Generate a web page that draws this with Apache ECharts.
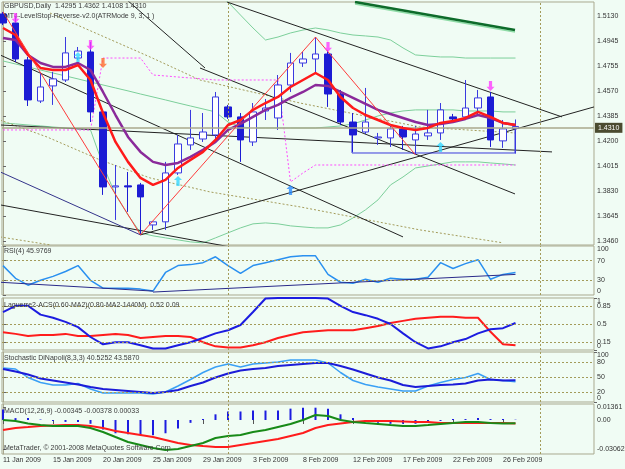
<!DOCTYPE html>
<html>
<head>
<meta charset="utf-8">
<style>
  html, body { margin: 0; padding: 0; width: 100%; height: 100%; overflow: hidden; background: #f0fcf4; }
  #container { width: 625px; height: 469px; }
</style>
<script src="https://cdn.jsdelivr.net/npm/echarts@6/dist/echarts.min.js"></script>
</head>
<body>
<div id="container"></div>
<script>
var dom = document.getElementById('container');
var myChart = echarts.init(dom, null, { renderer: 'canvas' });

// bars (Sunday bars included, as MT4 shows them)
const dates = ['11 Jan','12 Jan','13 Jan','14 Jan','15 Jan','16 Jan','18 Jan','19 Jan','20 Jan','21 Jan','22 Jan','23 Jan',
  '25 Jan','26 Jan','27 Jan','28 Jan','29 Jan','30 Jan','1 Feb','2 Feb','3 Feb','4 Feb','5 Feb','6 Feb','8 Feb','9 Feb',
  '10 Feb','11 Feb','12 Feb','13 Feb','15 Feb','16 Feb','17 Feb','18 Feb','19 Feb','20 Feb','22 Feb','23 Feb','24 Feb',
  '25 Feb','26 Feb','27 Feb'].map(d => d + ' 2009');

const opens  = [1.5145,1.5078,1.4804,1.4499,1.4611,1.4655,1.4818,1.4863,1.4418,1.3861,1.3869,1.3876,1.3579,1.3602,1.3965,1.4173,1.4217,1.4247,1.4455,1.4381,1.4195,1.4425,1.4373,1.4618,1.4781,1.4811,1.4848,1.4551,1.4343,1.4269,1.4225,1.4225,1.4292,1.4210,1.4240,1.4262,1.4381,1.4381,1.4447,1.4529,1.4203,1.4295];
const highs  = [1.5160,1.5130,1.4826,1.4707,1.4715,1.4974,1.4900,1.4937,1.4433,1.4024,1.3972,1.3891,1.3609,1.4047,1.4247,1.4433,1.4410,1.4566,1.4470,1.4410,1.4484,1.4514,1.4692,1.4856,1.4863,1.4974,1.4878,1.4581,1.4410,1.4596,1.4262,1.4314,1.4314,1.4314,1.4433,1.4484,1.4403,1.4655,1.4581,1.4566,1.4358,1.4362];
const lows   = [1.5063,1.4789,1.4462,1.4484,1.4470,1.4640,1.4804,1.4343,1.3802,1.3616,1.3676,1.3505,1.3542,1.3542,1.3950,1.4136,1.4195,1.4210,1.4366,1.4047,1.4165,1.4358,1.4284,1.4566,1.4752,1.4707,1.4455,1.4321,1.4121,1.4254,1.4173,1.4158,1.4136,1.4099,1.4210,1.4210,1.4351,1.4358,1.4395,1.4158,1.4151,1.4108];
const closes = [1.5078,1.4811,1.4507,1.4603,1.4663,1.4856,1.4870,1.4418,1.3861,1.3869,1.3861,1.3787,1.3602,1.3965,1.4180,1.4225,1.4269,1.4529,1.4381,1.4210,1.4418,1.4447,1.4618,1.4781,1.4811,1.4848,1.4551,1.4343,1.4247,1.4343,1.4232,1.4292,1.4232,1.4254,1.4262,1.4433,1.4366,1.4447,1.4522,1.4210,1.4292,1.4310];

// moving averages
const maRed    = [1.5041,1.4989,1.4841,1.4744,1.4729,1.4729,1.4766,1.4655,1.4410,1.4195,1.4047,1.3928,1.3876,1.3913,1.4002,1.4062,1.4121,1.4210,1.4321,1.4358,1.4433,1.4484,1.4529,1.4603,1.4655,1.4707,1.4655,1.4529,1.4447,1.4395,1.4358,1.4321,1.4299,1.4284,1.4299,1.4336,1.4351,1.4373,1.4418,1.4381,1.4336,1.4321];
const maPurple = [1.4967,1.4952,1.4841,1.4781,1.4752,1.4752,1.4781,1.4729,1.4566,1.4395,1.4232,1.4121,1.4047,1.4024,1.4039,1.4084,1.4136,1.4195,1.4284,1.4329,1.4381,1.4433,1.4470,1.4522,1.4566,1.4618,1.4611,1.4566,1.4522,1.4477,1.4433,1.4403,1.4373,1.4343,1.4321,1.4329,1.4343,1.4366,1.4395,1.4373,1.4336,1.4321];

// green channel
const bandUp  = [null,null,null,null,null,null,null,null,null,null,null,null,null,null,null,null,null,1.5286,1.5234,1.5137,1.5041,1.4952,1.4974,1.5004,1.5026,1.5041,1.5026,1.5004,1.4989,1.4982,1.4974,1.4952,1.4893,1.4841,1.4833,1.4826,1.4826,1.4818,1.4818,1.4818,1.4818,1.4818];
const bandMid = [1.4796,1.4774,1.4752,1.4729,1.4707,1.4685,1.4663,1.4640,1.4618,1.4596,1.4574,1.4551,1.4529,1.4507,1.4484,1.4462,1.4440,1.4418,1.4343,1.4306,1.4299,1.4299,1.4299,1.4299,1.4299,1.4299,1.4306,1.4314,1.4329,1.4358,1.4388,1.4410,1.4425,1.4433,1.4433,1.4433,1.4433,1.4425,1.4425,1.4425,1.4418,1.4418];
const bandLow = [1.4336,1.4329,1.4321,1.4314,1.4306,1.4299,1.4292,1.4284,1.4024,1.3802,1.3653,1.3520,1.3498,1.3483,1.3468,1.3453,1.3446,1.3483,1.3520,1.3557,1.3587,1.3594,1.3587,1.3572,1.3564,1.3557,1.3557,1.3579,1.3631,1.3691,1.3765,1.3876,1.3935,1.4002,1.4017,1.4032,1.4047,1.4047,1.4047,1.4039,1.4032,1.4024];

// LevelStop-Reverse line
const levelStop = [1.4284,1.4284,1.4284,1.4284,1.4284,1.4284,1.4284,1.4284,1.4818,1.4818,1.4818,1.4818,1.4692,1.4685,1.4677,1.4670,1.4663,1.4655,1.4655,1.4655,1.4655,1.4655,1.4655,1.3898,1.3965,1.4024,1.4024,1.4024,1.4024,1.4024,1.4024,1.4024,1.4024,1.4024,1.4024,1.4024,1.4024,1.4024,1.4024,1.4024,1.4024,1.4024];

// zigzag pivots: [bar, 'h' | 'l']
const zigzagPivots = [[0, 'h'], [11, 'l'], [25, 'h'], [33, 'l']];

// drawn objects (bar index, price)
const blackLines = [
  [[17.92, 1.5234], [44.72, 1.4381]],
  [[9.92, 1.5249], [16.16, 1.4744]],
  [[-0.24, 1.4841], [32, 1.3490]],
  [[-0.24, 1.4321], [43.92, 1.4121]],
  [[15.76, 1.4744], [40.96, 1.3809]],
  [[-0.24, 1.3728], [18.16, 1.3416]],
  [[11, 1.3505], [47.28, 1.4455]]
];
const navyLine = [[-0.24, 1.3973], [11, 1.3505]];
const darkGreenLine = [[28.16, 1.5234], [40.96, 1.5026]];
const lightGreenLine = [[28.16, 1.5219], [40.96, 1.5011]];
const oliveLines = [
  [[3.76, 1.5152], [7.76, 1.4989], [11.76, 1.4826], [15.76, 1.4655], [23.76, 1.4484], [33.36, 1.4306], [40.96, 1.4262]],
  [[-0.24, 1.4358], [3.52, 1.4232], [7.76, 1.4062], [11.76, 1.3928], [16.56, 1.3824], [23.76, 1.3713], [33.36, 1.3542], [40, 1.3446]],
  [[-0.24, 1.3490], [3.76, 1.3431]]
];
const boxLine = [[27.92, 1.4306], [27.92, 1.4113], [40.96, 1.4113], [40.96, 1.4306]];

// signal arrows
const arrowsDown = [[1, 1.5115], [7, 1.4915], [26, 1.4900], [39, 1.4611]];
const arrowsDownOrange = [[8, 1.4781]];
const arrowsUpCyan = [[6, 1.4826], [14, 1.3906], [35, 1.4158]];
const arrowsUpBlue = [[23, 1.3839]];

// indicators
const rsi = [60,34,20,30,38,48,60,30,14,14,14,12,8,46,60,62,66,78,60,44,60,66,72,78,80,80,42,26,24,32,26,34,32,32,36,66,54,64,72,32,42,45.98];
const rsiTrendA = [[-0.24, 26], [12, 8]];
const rsiTrendB = [[12, 6], [41, 42]];
const lagBlue = [0.73,0.85,0.85,0.68,0.62,0.54,0.44,0.25,0.11,0.15,0.15,0.09,0.03,0.03,0.09,0.15,0.23,0.32,0.38,0.48,0.73,0.99,1,1,1,1,0.99,0.85,0.73,0.67,0.6,0.5,0.32,0.15,0.03,0.07,0.15,0.21,0.32,0.4,0.42,0.52];
const lagRed  = [0.34,0.31,0.27,0.29,0.29,0.31,0.27,0.27,0.29,0.31,0.29,0.23,0.25,0.27,0.27,0.25,0.15,0.07,0.05,0.05,0.09,0.15,0.23,0.29,0.34,0.36,0.38,0.38,0.38,0.42,0.46,0.52,0.56,0.6,0.62,0.64,0.64,0.62,0.62,0.35,0.11,0.09];
const stochK = [68,66,49,39,34,34,37,26,18,18,18,18,16,20,32,45,59,70,76,70,76,78,80,84,84,84,78,59,43,35,30,26,22,22,32,39,45,49,57,45,43,40.53];
const stochD = [66,61,55,47,43,39,35,30,26,24,22,20,18,20,24,32,39,49,57,63,66,68,72,74,76,78,78,72,65,57,49,43,34,30,32,34,35,37,43,45,43,43.59];
const macdHist = [0.011,0.002,0.002,0.0005,-0.001,-0.002,-0.002,-0.004,-0.010,-0.014,-0.015,-0.016,-0.016,-0.014,-0.009,-0.003,0.001,0.006,0.009,0.009,0.010,0.010,0.010,0.012,0.013,0.013,0.012,0.006,0.002,-0.002,-0.003,-0.004,-0.004,-0.004,-0.002,-0.001,0.001,0.001,0.002,0.001,0.001,0.00033];
const macdMain = [0,-0.0011,-0.0037,-0.0053,-0.0063,-0.0063,-0.0063,-0.0084,-0.0127,-0.0180,-0.0232,-0.0264,-0.0296,-0.0317,-0.0306,-0.0275,-0.0243,-0.0190,-0.0169,-0.0158,-0.0127,-0.0106,-0.0074,-0.0042,0,0.0053,0.0042,0,-0.0021,-0.0032,-0.0042,-0.0053,-0.0063,-0.0063,-0.0053,-0.0042,-0.0032,-0.0021,-0.0021,-0.0032,-0.0037,-0.00345];
const macdSignal = [-0.0106,-0.0084,-0.0074,-0.0063,-0.0058,-0.0053,-0.0053,-0.0063,-0.0084,-0.0116,-0.0137,-0.0158,-0.0180,-0.0211,-0.0243,-0.0264,-0.0275,-0.0285,-0.0285,-0.0264,-0.0243,-0.0222,-0.0201,-0.0169,-0.0137,-0.0084,-0.0053,-0.0037,-0.0021,-0.0011,-0.0011,-0.0011,-0.0016,-0.0021,-0.0021,-0.0032,-0.0032,-0.0032,-0.0032,-0.0032,-0.0032,-0.00378];

// axis ticks / levels
const priceTicks = [1.3460,1.3645,1.3830,1.4015,1.4200,1.4385,1.4570,1.4755,1.4945,1.5130];
const lastPrice = 1.4310;
const rsiTicks = [0, 30, 70, 100];
const rsiLevels = [70, 30];
const lagTicks = [0.15, 0.5, 0.85];
const lagEdges = [0, 1];
const lagLevels = [0.85, 0.5, 0.15];
const stochTicks = [20, 50, 80];
const stochEdges = [0, 100];
const stochLevels = [80, 50, 20];
const macdTicks = [-0.03062, 0, 0.01361];
const dateTicks = [0, 4, 8, 12, 16, 20, 24, 28, 32, 36, 40];
const separators = [18, 43];

const borderCol = '#a9a98f';
const textCol = '#333333';
const oliveCol = '#a39b5a';
const pts = arr => arr.map((v, i) => [i, v]);

const grids = [
  { top: 2, height: 243 },
  { top: 246, height: 49 },
  { top: 298, height: 52 },
  { top: 352, height: 50 },
  { top: 404, height: 50 }
].map(g => Object.assign({ left: 2, right: 31, show: true, borderColor: borderCol, borderWidth: 1, outerBoundsMode: 'none' }, g));

const xAxes = grids.map((g, i) => ({
  gridIndex: i, type: 'value', min: -0.08, max: 47.28,
  show: i === 4,
  axisLine: { show: false },
  splitLine: { show: false },
  axisTick: { show: true, customValues: dateTicks, length: 4, lineStyle: { color: '#555' } },
  axisLabel: { customValues: dateTicks, formatter: v => dates[v], align: 'left', fontSize: 7, color: textCol, margin: 3 }
}));

function yAx(i, min, max, ticks, fmt, edgeAlign, bare) {
  const lab = { customValues: ticks, formatter: fmt, fontSize: 7, color: textCol, margin: 3,
    showMinLabel: true, showMaxLabel: true };
  if (edgeAlign) { lab.verticalAlignMinLabel = 'bottom'; lab.verticalAlignMaxLabel = 'top'; }
  return {
    gridIndex: i, type: 'value', position: 'right', min: min, max: max,
    axisLine: { show: !bare, lineStyle: { color: borderCol } },
    axisTick: { show: true, customValues: ticks, length: 3, lineStyle: { color: '#666' } },
    axisLabel: lab,
    splitLine: { show: false }
  };
}

const yAxes = [
  yAx(0, 1.3430, 1.5234, priceTicks, v => v.toFixed(4), false),
  yAx(1, 0, 100, rsiTicks, v => String(v), true),
  yAx(2, 0, 1, lagTicks, v => String(v), false),
  yAx(3, 0, 100, stochTicks, v => String(v), false),
  yAx(4, -0.0359, 0.0169, macdTicks, v => v === 0 ? '0.00' : v.toFixed(5), false),
  // edge labels drawn on their own axes so they may overlap the inner ones, as in MT4
  yAx(2, 0, 1, lagEdges, v => String(v), true, true),
  yAx(3, 0, 100, stochEdges, v => String(v), true, true)
];

function levelMarks(levels) {
  return {
    silent: true, symbol: 'none', label: { show: false },
    lineStyle: { color: oliveCol, type: [2, 2], width: 1 },
    data: levels.map(v => ({ yAxis: v })).concat(separators.map(v => ({ xAxis: v })))
  };
}

function line(grid, data, color, width, extra) {
  return Object.assign({
    type: 'line', xAxisIndex: grid, yAxisIndex: grid, data: data, showSymbol: false, symbol: 'none',
    lineStyle: { color: color, width: width }, silent: true, z: 3
  }, extra || {});
}

const arrowUp = 'path://M5,0L10,5L7,5L7,12L3,12L3,5L0,5Z';
function arrows(data, color, down) {
  return {
    type: 'scatter', xAxisIndex: 0, yAxisIndex: 0, data: data, symbol: arrowUp, symbolSize: [8, 10],
    symbolRotate: down ? 180 : 0, itemStyle: { color: color }, silent: true, z: 6
  };
}

const series = [];
// main panel
series.push(line(0, pts(bandUp), '#7ccf9a', 1, { z: 1 }));
series.push(line(0, pts(bandMid), '#7ccf9a', 1, { z: 1, markLine: levelMarks([]) }));
series.push(line(0, pts(bandLow), '#7ccf9a', 1, { z: 1 }));
oliveLines.forEach(l => series.push(line(0, l, oliveCol, 1, { z: 1, lineStyle: { color: oliveCol, width: 1, type: [2, 2] } })));
blackLines.forEach(l => series.push(line(0, l, '#222222', 1, { z: 1 })));
series.push(line(0, navyLine, '#33338a', 1, { z: 1 }));
series.push(line(0, lightGreenLine, '#8edca6', 1.5, { z: 1 }));
series.push(line(0, darkGreenLine, '#0d6b2a', 2.5, { z: 1 }));
series.push(line(0, boxLine, '#3b3bdc', 1, { z: 1 }));
series.push(line(0, pts(levelStop), '#ff4cff', 1, { z: 2, lineStyle: { color: '#ff4cff', width: 1, type: [2, 2] } }));
series.push({
  type: 'candlestick', xAxisIndex: 0, yAxisIndex: 0, barWidth: 7, silent: true, z: 2,
  encode: { x: 0, y: [1, 2, 3, 4] },
  data: dates.map((d, i) => [i, opens[i], closes[i], lows[i], highs[i]]),
  itemStyle: { color: '#ffffff', color0: '#1c1cd4', borderColor: '#3a3ae0', borderColor0: '#1c1cd4', borderWidth: 1 },
  markLine: {
    silent: true, symbol: 'none',
    lineStyle: { color: '#aaa98c', type: 'solid', width: 1.5 },
    label: { show: true, position: 'end', distance: 1, formatter: lastPrice.toFixed(4), color: '#ffffff',
      backgroundColor: '#4b4b30', fontSize: 7, padding: [2, 3, 1, 3] },
    data: [{ yAxis: lastPrice }]
  }
});
series.push(line(0, pts(maPurple), '#8a2a9a', 2.5, { z: 4 }));
series.push(line(0, pts(maRed), '#ff1a1a', 2.5, { z: 5 }));
series.push(line(0, zigzagPivots.map(p => [p[0], p[1] === 'h' ? highs[p[0]] : lows[p[0]]]), '#ff3b3b', 1, { z: 5 }));
series.push(arrows(arrowsDown, '#ff3cff', true));
series.push(arrows(arrowsDownOrange, '#ff6a2a', true));
series.push(arrows(arrowsUpCyan, '#33d6ff', false));
series.push(arrows(arrowsUpBlue, '#2a8cff', false));

// RSI
series.push(line(1, pts(rsi), '#2a90f0', 1.5, { markLine: levelMarks(rsiLevels) }));
series.push(line(1, rsiTrendA, '#2a2a8a', 1));
series.push(line(1, rsiTrendB, '#2a2a8a', 1));
// Laguerre
series.push(line(2, pts(lagRed), '#ff1c1c', 2, { markLine: levelMarks(lagLevels) }));
series.push(line(2, pts(lagBlue), '#1c1ce0', 2));
// Stochastic
series.push(line(3, pts(stochK), '#3aa0f5', 1.5, { markLine: levelMarks(stochLevels) }));
series.push(line(3, pts(stochD), '#1c1cd8', 2));
// MACD
series.push({
  type: 'bar', xAxisIndex: 4, yAxisIndex: 4, data: pts(macdHist), barWidth: 2, silent: true,
  itemStyle: { color: '#1c1ce0' }, markLine: levelMarks([])
});
series.push(line(4, pts(macdSignal), '#ff1c1c', 2));
series.push(line(4, pts(macdMain), '#178a17', 2));

const titleStyle = { fontSize: 7, fontWeight: 'normal', color: '#3a3a3a', fontFamily: 'Liberation Sans' };
const titles = [
  ['GBPUSD,Daily  1.4295 1.4362 1.4108 1.4310', 3],
  ['MT4-LevelStop-Reverse-v2.0(ATRMode 9, 3, 1 )', 13],
  ['RSI(4) 45.9769', 248],
  ['Laguerre2-ACS(0.60-MA2)(0.80-MA2-1440M)  0.52 0.09', 302],
  ['Stochastic DiNapoli(8,3,3) 40.5252 43.5870', 355],
  ['MACD(12,26,9) -0.00345 -0.00378 0.00033', 408],
  ['MetaTrader, \u00a9 2001-2008 MetaQuotes Software Corp.', 445]
].map(t => ({ text: t[0], left: 4, top: t[1], padding: 0, textStyle: titleStyle }));

var option = {
  animation: false,
  backgroundColor: '#f0fcf4',
  textStyle: { fontFamily: 'Liberation Sans' },
  title: titles,
  grid: grids,
  xAxis: xAxes,
  yAxis: yAxes,
  series: series
};

myChart.setOption(option);
window.addEventListener('resize', myChart.resize);
</script>
</body>
</html>
